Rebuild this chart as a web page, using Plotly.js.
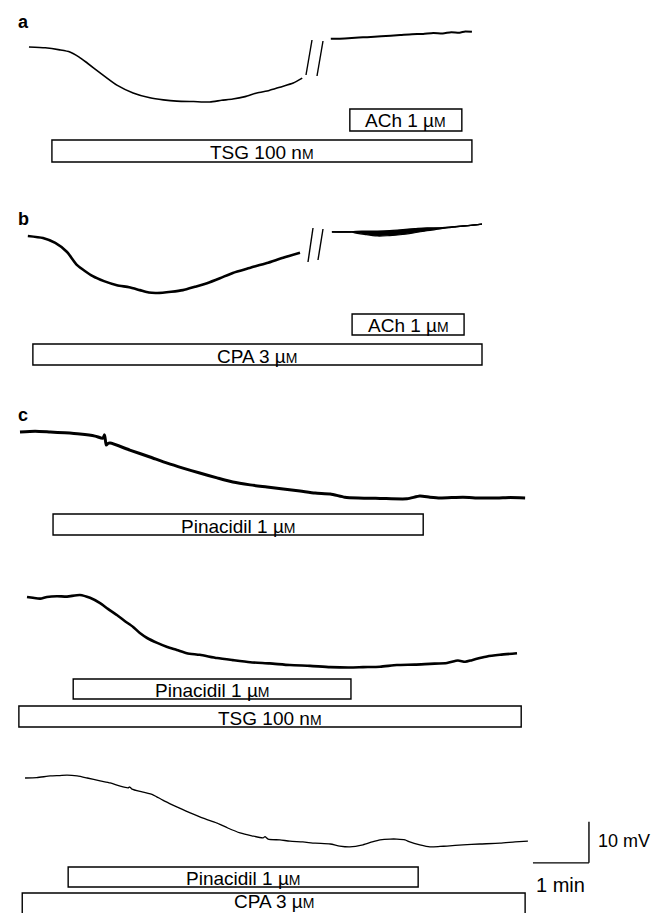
<!DOCTYPE html>
<html>
<head>
<meta charset="utf-8">
<script src="https://cdn.plot.ly/plotly-3.0.1.min.js"></script>
<style>html,body{margin:0;padding:0;background:#fff}#chart{width:659px;height:913px}</style>
</head>
<body>
<div id="chart"></div>
<script>
// ---------- DATA (time in min, membrane potential change in mV vs. trace start) ----------
// Panel a: TSG 100 nM, then (after break) ACh 1 uM
const aTime = [0.16,0.45,0.71,0.89,1.05,1.20,1.43,1.73,2.02,2.32,2.56,2.80,3.10,3.39,3.60,3.80,4.02,4.23,4.45,4.64,4.88,5.04];
const aMv   = [0,-0.2,-0.7,-1.2,-2.4,-3.9,-6.3,-9.3,-11.2,-12.4,-12.9,-13.2,-13.3,-13.4,-13.0,-12.7,-12.1,-11.2,-10.6,-9.8,-8.8,-7.6];
const aAChTime = [5.55,5.80,6.05,6.20,6.45,6.79,7.00,7.20,7.38,7.55,7.70,7.85,7.95,8.07];
const aAChMv   = [2.0,2.1,2.3,2.4,2.6,2.9,3.1,3.2,3.4,3.3,3.6,3.5,3.8,3.7];

// Panel b: CPA 3 uM, then ACh 1 uM
const bTime = [0.14,0.41,0.63,0.84,1.02,1.30,1.50,1.73,1.95,2.14,2.30,2.45,2.70,2.91,3.12,3.34,3.57,3.80,4.10,4.41,4.70,5.00];
const bMv   = [0,-0.5,-1.7,-3.9,-7.1,-9.8,-11.0,-12.0,-12.5,-13.2,-13.8,-13.9,-13.6,-13.2,-12.4,-11.5,-10.3,-9.0,-7.8,-6.6,-5.3,-4.1];
const bAChTime = [5.57,5.93,5.95,6.15,6.38,6.60,6.79,7.05,7.27,7.50,7.80,8.05,8.25];
const bAChMv   = [1.0,1.0,1.0,0.8,0.6,0.8,0.9,1.3,1.6,1.9,2.3,2.6,2.9];
const bAChUpper = [1.0,1.0,1.1,1.2,1.2,1.3,1.5,1.8,2.0,2.0,2.3,2.6,2.9];
const bAChLower = [1.0,1.0,0.9,0.4,0.0,0.1,0.3,0.8,1.3,1.7,2.3,2.6,2.9];

// Panel c (top): pinacidil 1 uM
const c1Time = [0,0.27,0.54,0.80,1.07,1.34,1.48,1.51,1.54,1.57,1.61,1.96,2.32,2.63,2.91,3.21,3.52,3.80,4.11,4.41,4.70,5.00,5.27,5.54,5.80,6.04,6.43,6.91,7.14,7.32,7.50,7.91,8.21,8.52,8.75,9.02];
const c1Mv   = [0,0.2,0,-0.2,-0.5,-1.0,-1.5,-0.7,-3.2,-2.8,-2.7,-4.4,-6.1,-7.6,-8.8,-10.0,-11.2,-12.2,-12.9,-13.4,-13.9,-14.4,-14.9,-15.1,-15.9,-16.1,-16.2,-16.3,-15.6,-15.9,-16.1,-15.9,-16.1,-16.1,-16.0,-16.1];

// Panel c (middle): pinacidil 1 uM in presence of TSG 100 nM
const c2Time = [0.125,0.23,0.36,0.48,0.66,0.84,1.07,1.25,1.43,1.57,1.73,1.875,2.02,2.14,2.27,2.45,2.63,2.80,2.98,3.21,3.52,3.80,4.11,4.46,4.82,5.18,5.54,5.89,6.125,6.43,6.73,7.05,7.32,7.625,7.82,7.95,8.07,8.21,8.34,8.57,8.875];
const c2Mv   = [0,-0.2,-0.4,0,0.2,0.1,0.5,-0.2,-1.5,-2.9,-4.4,-5.9,-7.3,-8.8,-10.0,-11.2,-12.2,-12.9,-13.7,-14.1,-14.9,-15.4,-15.9,-16.2,-16.6,-16.8,-17.1,-17.2,-17.1,-17.0,-16.6,-16.5,-16.3,-16.1,-15.5,-15.8,-15.4,-14.9,-14.5,-14.1,-13.7];

// Panel c (bottom): pinacidil 1 uM in presence of CPA 3 uM
const c3Time = [0.09,0.30,0.54,0.71,0.84,1.02,1.20,1.43,1.61,1.79,1.93,1.96,2.00,2.18,2.375,2.55,2.73,2.89,3.04,3.27,3.52,3.71,3.93,4.14,4.34,4.375,4.43,4.64,4.82,5.05,5.27,5.54,5.71,5.89,6.125,6.29,6.43,6.61,6.73,6.875,6.96,7.14,7.32,7.50,7.625,7.91,8.21,8.57,8.84,9.07];
const c3Mv   = [0,0.1,0.5,0.6,0.7,0.5,0,-0.7,-1.2,-2.0,-2.4,-2.2,-2.7,-3.4,-4.1,-5.4,-6.6,-7.6,-8.5,-9.8,-11.0,-12.2,-13.4,-14.1,-14.6,-14.3,-14.9,-15.1,-15.4,-15.6,-15.9,-16.1,-16.6,-16.8,-16.3,-15.6,-15.1,-14.9,-14.9,-15.1,-15.6,-16.3,-16.8,-16.7,-16.6,-16.3,-16.1,-15.9,-15.6,-15.4];

// Drug application bars
const barPanel = ['a','a','b','b','c1','c2','c2','c3','c3'];
const barLabel = ['ACh 1 µ','TSG 100 n','ACh 1 µ','CPA 3 µ','Pinacidil 1 µ','Pinacidil 1 µ','TSG 100 n','Pinacidil 1 µ','CPA 3 µ'];
const barStart = [5.89,0.57,5.93,0.23,0.59,0.95,-0.02,0.86,0.04];
const barEnd   = [7.89,8.07,7.93,8.25,7.20,5.91,8.95,7.11,9.02];

// Scale bar
const scaleMin = 1;   // min
const scaleMv  = 10;  // mV

// ---------- LAYOUT ----------
const W = 659, H = 913;
const PX_PER_MIN = 56, PX_PER_MV = 4.1, T0PX = 20;
const FONT = 'Liberation Sans, Arial, sans-serif';
const py = p => 1 - p / H;       // pixel row -> paper y
const px = p => p / W;           // pixel col -> paper x

// panels: [top px, bottom px, px row of 0 mV]
const panels = {
  a:  {axis:'y',  top:0,   bot:180, zero:47},
  b:  {axis:'y2', top:180, bot:380, zero:236},
  c1: {axis:'y3', top:380, bot:560, zero:432},
  c2: {axis:'y4', top:560, bot:740, zero:597},
  c3: {axis:'y5', top:740, bot:913, zero:778}
};
const barTopPx = [109,140,314,344,514,679,706,867,893];
const barBotPx = [131,162,335,365,535,699,727,887,918];
const barTextPx = [121,152,326,356,526,690,718,878,901];

const layout = {
  width: W, height: H,
  margin: {l:0, r:0, t:0, b:0},
  paper_bgcolor: '#fff', plot_bgcolor: '#fff',
  showlegend: false,
  xaxis: {range: [-T0PX / PX_PER_MIN, (W - T0PX) / PX_PER_MIN], visible: false, fixedrange: true},
  shapes: [], annotations: []
};
Object.values(panels).forEach(p => {
  const key = p.axis === 'y' ? 'yaxis' : 'yaxis' + p.axis.slice(1);
  layout[key] = {
    domain: [1 - p.bot / H, 1 - p.top / H],
    range: [-(p.bot - p.zero) / PX_PER_MV, (p.zero - p.top) / PX_PER_MV],
    visible: false, fixedrange: true, anchor: 'x'
  };
});

const traces = [];
function line(x, y, panel, w) {
  traces.push({x, y, type:'scatter', mode:'lines', yaxis: panels[panel].axis,
    line:{color:'#000', width:w, shape:'spline', smoothing:0.6}, hoverinfo:'skip'});
}
line(aTime, aMv, 'a', 1.6);
line(aAChTime, aAChMv, 'a', 2.0);
line(bTime, bMv, 'b', 2.6);
traces.push({x:bAChTime, y:bAChUpper, type:'scatter', mode:'lines', yaxis:'y2',
  line:{color:'#000', width:1.2, shape:'spline'}, hoverinfo:'skip'});
traces.push({x:bAChTime, y:bAChLower, type:'scatter', mode:'lines', yaxis:'y2', fill:'tonexty',
  fillcolor:'#000', line:{color:'#000', width:1.2, shape:'spline'}, hoverinfo:'skip'});
line(bAChTime, bAChMv, 'b', 1.4);
line(c1Time, c1Mv, 'c1', 3.0);
line(c2Time, c2Mv, 'c2', 2.6);
line(c3Time, c3Mv, 'c3', 1.3);

// bars with labels
barLabel.forEach((lab, i) => {
  layout.shapes.push({type:'rect', xref:'x', yref:'paper',
    x0: barStart[i], x1: barEnd[i], y0: py(barBotPx[i]), y1: py(barTopPx[i]),
    line:{color:'#000', width:1.4}, fillcolor:'rgba(0,0,0,0)'});
  layout.annotations.push({xref:'x', yref:'paper', x:(barStart[i] + barEnd[i]) / 2, y: py(barTextPx[i]),
    xanchor:'center', yanchor:'middle', showarrow:false,
    text: lab + '<span style="font-size:14px">M</span>', font:{family:FONT, size:19, color:'#000'}});
});

// break marks "//"
[[306,75,312,40],[317,76,323,41],[308,262,313,228],[318,260,323,229]].forEach(s => {
  layout.shapes.push({type:'line', xref:'paper', yref:'paper',
    x0:px(s[0]), y0:py(s[1]), x1:px(s[2]), y1:py(s[3]), line:{color:'#000', width:1.4}});
});

// panel letters
[['a',22],['b',219],['c',415]].forEach(l => {
  layout.annotations.push({xref:'paper', yref:'paper', x:px(16), y:py(l[1]), xanchor:'left', yanchor:'middle',
    showarrow:false, text:'<b>' + l[0] + '</b>', font:{family:FONT, size:18, color:'#000'}});
});

// scale bar (drawn on c3 axes)
const sbX1 = 10.16, sbX0 = sbX1 - scaleMin, sbY0 = -20.7;
layout.shapes.push({type:'line', xref:'x', yref:'y5', x0:sbX0, x1:sbX1, y0:sbY0, y1:sbY0, line:{color:'#000', width:1.4}});
layout.shapes.push({type:'line', xref:'x', yref:'y5', x0:sbX1, x1:sbX1, y0:sbY0, y1:sbY0 + scaleMv, line:{color:'#000', width:1.4}});
layout.annotations.push({xref:'x', yref:'y5', x:sbX1 + 0.13, y:sbY0 + scaleMv / 2 + 0.3, xanchor:'left', yanchor:'middle',
  showarrow:false, text: scaleMv + ' mV', font:{family:FONT, size:18, color:'#000'}});
layout.annotations.push({xref:'x', yref:'paper', x:sbX1 - scaleMin / 2, y:py(885), xanchor:'center', yanchor:'middle',
  showarrow:false, text: scaleMin + ' min', font:{family:FONT, size:20, color:'#000'}});

Plotly.newPlot('chart', traces, layout, {displayModeBar:false, staticPlot:true});
</script>
</body>
</html>
